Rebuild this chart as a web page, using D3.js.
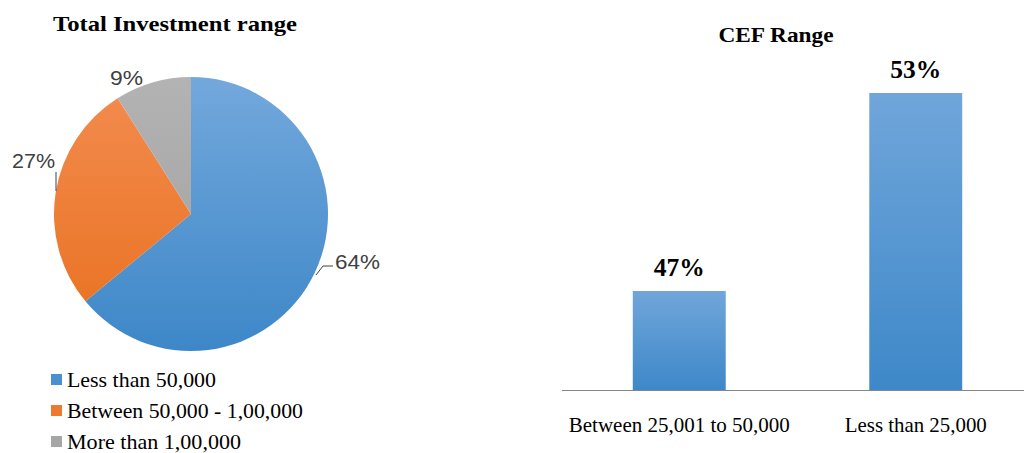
<!DOCTYPE html>
<html><head><meta charset="utf-8">
<script src="https://cdn.jsdelivr.net/npm/d3@7"></script>
<style>body{margin:0;background:#fff}svg{display:block}</style>
</head><body>
<svg id="c" width="1024" height="453"></svg>
<script>
const pieCategories = ["Less than 50,000", "Between 50,000 - 1,00,000", "More than 1,00,000"];
const pieValues = [64, 27, 9];
const pieTitle = "Total Investment range";
const barCategories = ["Between 25,001 to 50,000", "Less than 25,000"];
const barValues = [47, 53];
const barTitle = "CEF Range";

const svg = d3.select("#c");
const defs = svg.append("defs");
function grad(id, c1, c2){
  const g = defs.append("linearGradient").attr("id", id).attr("x1",0).attr("y1",0).attr("x2",0).attr("y2",1);
  g.append("stop").attr("offset","0%").attr("stop-color",c1);
  g.append("stop").attr("offset","100%").attr("stop-color",c2);
}
grad("gBlue", "#73a8dc", "#3d87c8");
grad("gOrange", "#f38c50", "#e8701e");
grad("gGray", "#b3b3b3", "#9f9f9f");
grad("gBar", "#70a6da", "#3e88c9");
const fills = ["url(#gBlue)", "url(#gOrange)", "url(#gGray)"];
const legendColors = ["#4a8fd0", "#ee7a2f", "#a6a6a6"];

function fit(sel, w){ return sel.attr("textLength", w).attr("lengthAdjust", "spacingAndGlyphs"); }

// ---- Pie ----
const cx = 191, cy = 214, R = 137;
fit(svg.append("text").attr("x", 53).attr("y", 31)
  .attr("font-family", "Liberation Serif").attr("font-weight", "bold").attr("font-size", 21)
  .attr("fill", "#000").text(pieTitle), 244);

const pie = d3.pie().sort(null).value(d => d)(pieValues);
const arc = d3.arc().innerRadius(0).outerRadius(R);
const pg = svg.append("g").attr("transform", `translate(${cx},${cy})`);
pg.selectAll("path").data(pie).join("path")
  .attr("d", arc)
  .attr("fill", (d, i) => fills[i]);
defs.selectAll("linearGradient").filter(function(){ return this.id !== "gBar"; })
  .attr("gradientUnits", "userSpaceOnUse").attr("x1", 0).attr("x2", 0).attr("y1", -R).attr("y2", R);

// labels
const labelPos = [
  {x: 335, y: 269, w: 45},
  {x: 12, y: 168, w: 43},
  {x: 110, y: 85, w: 33}
];
pie.forEach((d, i) => {
  fit(svg.append("text").attr("x", labelPos[i].x).attr("y", labelPos[i].y)
    .attr("font-family", "Liberation Sans").attr("font-size", 21).attr("fill", "#404040")
    .text(d.data + "%"), labelPos[i].w);
});
// leader lines
svg.append("path").attr("d", "M316,275 L323,266 L333,266").attr("fill","none").attr("stroke","#404040").attr("stroke-width",1);
svg.append("path").attr("d", "M56,172 L56,191").attr("fill","none").attr("stroke","#404040").attr("stroke-width",1);

// legend
const legendW = [149, 236, 174];
const lg = svg.append("g");
pieCategories.forEach((c, i) => {
  const y = 387 + i * 31;
  lg.append("rect").attr("x", 51).attr("y", y - 13).attr("width", 11).attr("height", 11).attr("fill", legendColors[i]);
  fit(lg.append("text").attr("x", 67).attr("y", y)
    .attr("font-family", "Liberation Serif").attr("font-size", 21).attr("fill", "#000").text(c), legendW[i]);
});

// ---- Bars ----
fit(svg.append("text").attr("x", 776).attr("y", 42).attr("text-anchor", "middle")
  .attr("font-family", "Liberation Serif").attr("font-weight", "bold").attr("font-size", 22)
  .attr("fill", "#000").text(barTitle), 115);

const x = d3.scaleBand().domain(barCategories).range([561, 1034]).paddingInner(0.607).paddingOuter(0.3035);
const y = d3.scaleLinear().domain([44, 55]).range([390, 27]);

svg.append("g").selectAll("rect").data(barValues).join("rect")
  .attr("x", (d, i) => x(barCategories[i]))
  .attr("width", x.bandwidth())
  .attr("y", d => y(d))
  .attr("height", d => y(44) - y(d))
  .attr("fill", "url(#gBar)");

svg.append("g").selectAll("text").data(barValues).join("text")
  .attr("x", (d, i) => x(barCategories[i]) + x.bandwidth() / 2)
  .attr("y", d => y(d) - 15)
  .attr("text-anchor", "middle")
  .attr("font-family", "Liberation Serif").attr("font-weight", "bold").attr("font-size", 26)
  .attr("textLength", 51).attr("lengthAdjust", "spacingAndGlyphs")
  .attr("fill", "#000").text(d => d + "%");

const catW = [221, 142];
const ax = svg.append("g").attr("transform", `translate(0,${y(44)})`)
  .call(d3.axisBottom(x).tickSize(0).tickPadding(27));
ax.select(".domain").attr("stroke", "#868686").attr("d", "M562,0.5H1024");
ax.selectAll("text").attr("font-family", "Liberation Serif").attr("font-size", 21).attr("fill", "#000").attr("dy", "0.71em")
  .attr("textLength", (d, i) => catW[i]).attr("lengthAdjust", "spacingAndGlyphs");
</script>
</body></html>
